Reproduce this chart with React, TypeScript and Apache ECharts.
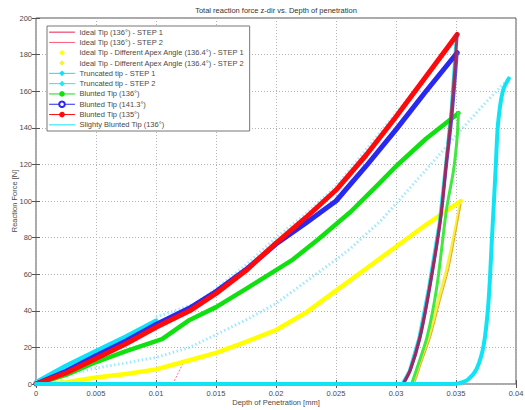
import React, { useEffect, useRef } from "react";
import * as echarts from "echarts";

const titleText = "Total reaction force z-dir vs. Depth of penetration";
const xName = "Depth of Penetration [mm]";
const yName = "Reaction Force [N]";

const seriesNames = [
  "Ideal Tip (136°) - STEP 1",
  "Ideal Tip (136°) - STEP 2",
  "Ideal Tip - Different Apex Angle (136.4°) - STEP 1",
  "Ideal Tip - Different Apex Angle (136.4°) - STEP 2",
  "Truncated tip - STEP 1",
  "Truncated tip - STEP 2",
  "Blunted Tip (136°)",
  "Blunted Tip (141.3°)",
  "Blunted Tip (135°)",
  "Slighty Blunted Tip (136°)",
];

// [depth mm, force N]
const idealStep1 = [[0, 0], [0.005, 14], [0.01, 31], [0.015, 49], [0.02, 77], [0.025, 105], [0.03, 145], [0.0351, 190]];
const idealStep2 = [[0.0351, 190], [0.0346, 146], [0.0337, 90], [0.0328, 53], [0.032, 26], [0.0312, 8], [0.0306, 0]];
const idealStep2Bit = [[0.0114, 0], [0.0123, 12]];

const apexStep1 = [[0, 0], [0.0025, 1], [0.005, 3.5], [0.0075, 5.5], [0.01, 8], [0.0128, 13], [0.015, 17], [0.0175, 23], [0.02, 29.5], [0.0225, 39], [0.025, 51], [0.0275, 63], [0.03, 75], [0.0325, 87], [0.0354, 100]];
const apexStep2 = [[0.0354, 100], [0.0348, 80], [0.0342, 62], [0.0335, 45], [0.0327, 25], [0.0319, 10], [0.0315, 2], [0.0313, 0]];
const apexStep2Line = [[0.0354, 98], [0.0349, 80], [0.0344, 63], [0.0337, 46], [0.0329, 26], [0.0321, 11], [0.0317, 3], [0.0315, 0]];

const truncStep1 = [[0, 1], [0.0025, 10], [0.005, 18], [0.0075, 26], [0.01, 34.5]];
const truncStep1Cont = [[0.01, 36.5], [0.0133, 44], [0.015, 52], [0.0175, 65], [0.02, 80], [0.0225, 93], [0.025, 108], [0.03, 148], [0.035, 188]];
const truncStep2 = [[0.035, 188], [0.0346, 150], [0.0341, 118], [0.0336, 88], [0.0327, 52], [0.0319, 25], [0.0311, 7], [0.0305, 0]];

const blunted136 = [[0, 0], [0.0025, 5], [0.005, 12], [0.0075, 18], [0.0105, 24.5], [0.0128, 35], [0.015, 42], [0.0175, 52], [0.0214, 68], [0.0235, 79], [0.0262, 94], [0.0285, 109], [0.03, 119], [0.0325, 134], [0.0352, 148]];
const blunted136Un = [[0.0352, 148], [0.0351, 135], [0.0348, 117], [0.0342, 95], [0.0334, 53], [0.0326, 26], [0.0317, 7.7], [0.0313, 0]];

const blunted141 = [[0, 0], [0.0025, 7], [0.005, 15.5], [0.0075, 23.5], [0.01, 32.5], [0.0128, 41.5], [0.015, 50.5], [0.0175, 62.5], [0.02, 76.5], [0.0225, 88], [0.025, 100], [0.0275, 119], [0.03, 139], [0.0325, 160], [0.0351, 181]];
const blunted141Un = [[0.0351, 181], [0.0349, 164], [0.0346, 142], [0.0342, 119], [0.0337, 89], [0.0328, 52], [0.032, 25], [0.0312, 7.5], [0.0306, 0]];

const blunted135 = [[0, 0], [0.0025, 6], [0.005, 14], [0.0075, 22], [0.01, 31], [0.0128, 40], [0.015, 49.5], [0.0175, 62], [0.02, 77], [0.0225, 91], [0.025, 106], [0.0275, 125], [0.03, 146], [0.0325, 168], [0.0351, 191]];
const blunted135Un = [[0.0351, 191], [0.0349, 172], [0.0346, 147], [0.0342, 122], [0.0337, 90], [0.0328, 53], [0.032, 26], [0.0312, 8], [0.0306, 0]];

const slightLoad = [[0, 1], [0.0025, 5], [0.005, 8.7], [0.0075, 11.5], [0.01, 14.5], [0.0128, 20], [0.015, 27], [0.0175, 35], [0.02, 44], [0.0225, 56], [0.025, 68], [0.0262, 74], [0.0287, 89], [0.0325, 117], [0.0353, 138], [0.0375, 154], [0.0394, 167]];
const slightUnload = [[0.0394, 167], [0.0389, 160], [0.0385, 142], [0.0383, 117], [0.038, 80], [0.0377, 44], [0.0373, 21], [0.0367, 8], [0.036, 2.5], [0.0353, 0.5], [0.0348, 0], [0, 0]];

const xMin = 0, xMax = 0.04, xStep = 0.005;
const yMin = 0, yMax = 200, yStep = 20;

const FONT = "Liberation Sans, Arial, sans-serif";
const TXT = "#4a4a4a";

function line(name: string, data: number[][], color: string, width: number, extra: any = {}) {
  return {
    type: "line",
    name,
    data,
    showSymbol: false,
    symbol: extra.symbol || "none",
    symbolSize: 5,
    smooth: extra.smooth ?? false,
    itemStyle: { color },
    lineStyle: {
      color, width, type: extra.dash || "solid", opacity: extra.opacity ?? 1,
      cap: extra.dash ? "butt" : "round", join: "round",
    },
    emphasis: { disabled: true },
    z: extra.z ?? 2,
    clip: extra.clip ?? true,
  };
}

export default function App() {
  const ref = useRef<HTMLDivElement>(null);
  useEffect(() => {
    const chart = echarts.init(ref.current!, undefined, { renderer: "svg" });
    const option: any = {
      animation: false,
      backgroundColor: "#ffffff",
      textStyle: { fontFamily: FONT },
      graphic: [
        {
          type: "text",
          x: 276,
          y: 10,
          style: { text: titleText, align: "center", verticalAlign: "middle", fontSize: 7.5, fill: "#333", fontFamily: FONT },
        },
      ],
      grid: {
        left: 36, right: 9, top: 18, bottom: 26,
        outerBoundsMode: "none",
        containLabel: false,
        show: true, borderColor: "#555", borderWidth: 1, backgroundColor: "#fff",
      },
      legend: {
        orient: "vertical",
        left: 47,
        top: 26,
        padding: [1, 5, 1, 2],
        itemGap: 0,
        itemWidth: 25,
        itemHeight: 7,
        backgroundColor: "#fff",
        borderColor: "#777",
        borderWidth: 1,
        borderRadius: 0,
        selectedMode: false,
        lineStyle: { width: 1, type: "solid" },
        textStyle: { fontSize: 7.5, color: TXT, lineHeight: 10.3, fontFamily: FONT },
        data: [
          { name: seriesNames[0], itemStyle: { opacity: 0 } },
          { name: seriesNames[1], itemStyle: { opacity: 0 } },
          { name: seriesNames[2], lineStyle: { opacity: 0 } },
          { name: seriesNames[3], lineStyle: { opacity: 0 } },
          { name: seriesNames[4] },
          { name: seriesNames[5] },
          { name: seriesNames[6] },
          { name: seriesNames[7] },
          { name: seriesNames[8] },
          { name: seriesNames[9], itemStyle: { opacity: 0 } },
        ],
      },
      xAxis: [
        {
          type: "value",
          min: xMin,
          max: xMax,
          interval: xStep,
          position: "bottom",
          axisLine: { show: false },
          axisTick: { inside: true, length: 4, lineStyle: { color: "#555" } },
          axisLabel: { fontSize: 7.5, color: TXT, margin: 5, fontFamily: FONT, formatter: (v: number) => String(+v.toFixed(3)) },
          splitLine: { show: true, lineStyle: { type: [1, 2], color: "#b4b4b4" } },
          name: xName,
          nameLocation: "middle",
          nameGap: 14,
          nameMoveOverlap: false,
          nameTextStyle: { fontSize: 7.5, color: TXT, fontFamily: FONT },
        },
        {
          type: "value",
          min: xMin,
          max: xMax,
          interval: xStep,
          position: "top",
          axisLine: { show: false },
          axisTick: { inside: true, length: 4, lineStyle: { color: "#555" } },
          axisLabel: { show: false },
          splitLine: { show: false },
        },
      ],
      yAxis: [
        {
          type: "value",
          min: yMin,
          max: yMax,
          interval: yStep,
          position: "left",
          axisLine: { show: false },
          axisTick: { inside: true, length: 4, lineStyle: { color: "#555" } },
          axisLabel: { fontSize: 7.5, color: TXT, margin: 4, fontFamily: FONT },
          splitLine: { show: true, lineStyle: { type: [1, 2], color: "#b4b4b4" } },
          name: yName,
          nameLocation: "middle",
          nameGap: 18,
          nameMoveOverlap: false,
          nameTextStyle: { fontSize: 7.5, color: TXT, fontFamily: FONT },
        },
        {
          type: "value",
          min: yMin,
          max: yMax,
          interval: yStep,
          position: "right",
          axisLine: { show: false },
          axisTick: { inside: true, length: 4, lineStyle: { color: "#555" } },
          axisLabel: { show: false },
          splitLine: { show: false },
        },
      ],
      series: [
        line(seriesNames[0], idealStep1, "#e8204e", 1),
        line(seriesNames[1], idealStep2, "#ff5a78", 1),
        line("_ideal2bit", idealStep2Bit, "#ff7090", 1, { dash: [2, 1.5] }),
        line(seriesNames[2], apexStep1, "#ffff00", 4.5, { symbol: "diamond" }),
        line(seriesNames[3], apexStep2, "#f6f040", 3, { symbol: "diamond", smooth: 0.3 }),
        line("_apex2line", apexStep2Line, "#f0a020", 1, { smooth: 0.3 }),
        line(seriesNames[4], truncStep1, "#10e0f8", 4.5, { symbol: "diamond" }),
        line("_trunc1cont", truncStep1Cont, "#9ee9ff", 3, { dash: [1.5, 2.5] }),
        line(seriesNames[5], truncStep2, "#20e8f8", 3, { symbol: "diamond" }),
        line("_slightload", slightLoad, "#9ee9ff", 3, { dash: [1.5, 2.5] }),
        line(seriesNames[6], blunted136, "#10e010", 4.5, { symbol: "circle" }),
        line("_b136un", blunted136Un, "#40e840", 3, { smooth: 0.3 }),
        line(seriesNames[7], blunted141, "#2828f0", 5, { symbol: "emptyCircle" }),
        line("_b141un", blunted141Un, "#5050e0", 3, { smooth: 0.3 }),
        line(seriesNames[8], blunted135, "#ff0a0a", 5, { symbol: "circle" }),
        line("_b135un", blunted135Un, "#b02048", 3, { opacity: 0.85, smooth: 0.3 }),
        line(seriesNames[9], slightUnload, "#10e4f4", 4, { clip: false, smooth: 0.3 }),
      ],
    };
    chart.setOption(option);
    return () => chart.dispose();
  }, []);
  return <div ref={ref} style={{ width: 525, height: 410, position: "absolute", left: 0, top: 0 }} />;
}
